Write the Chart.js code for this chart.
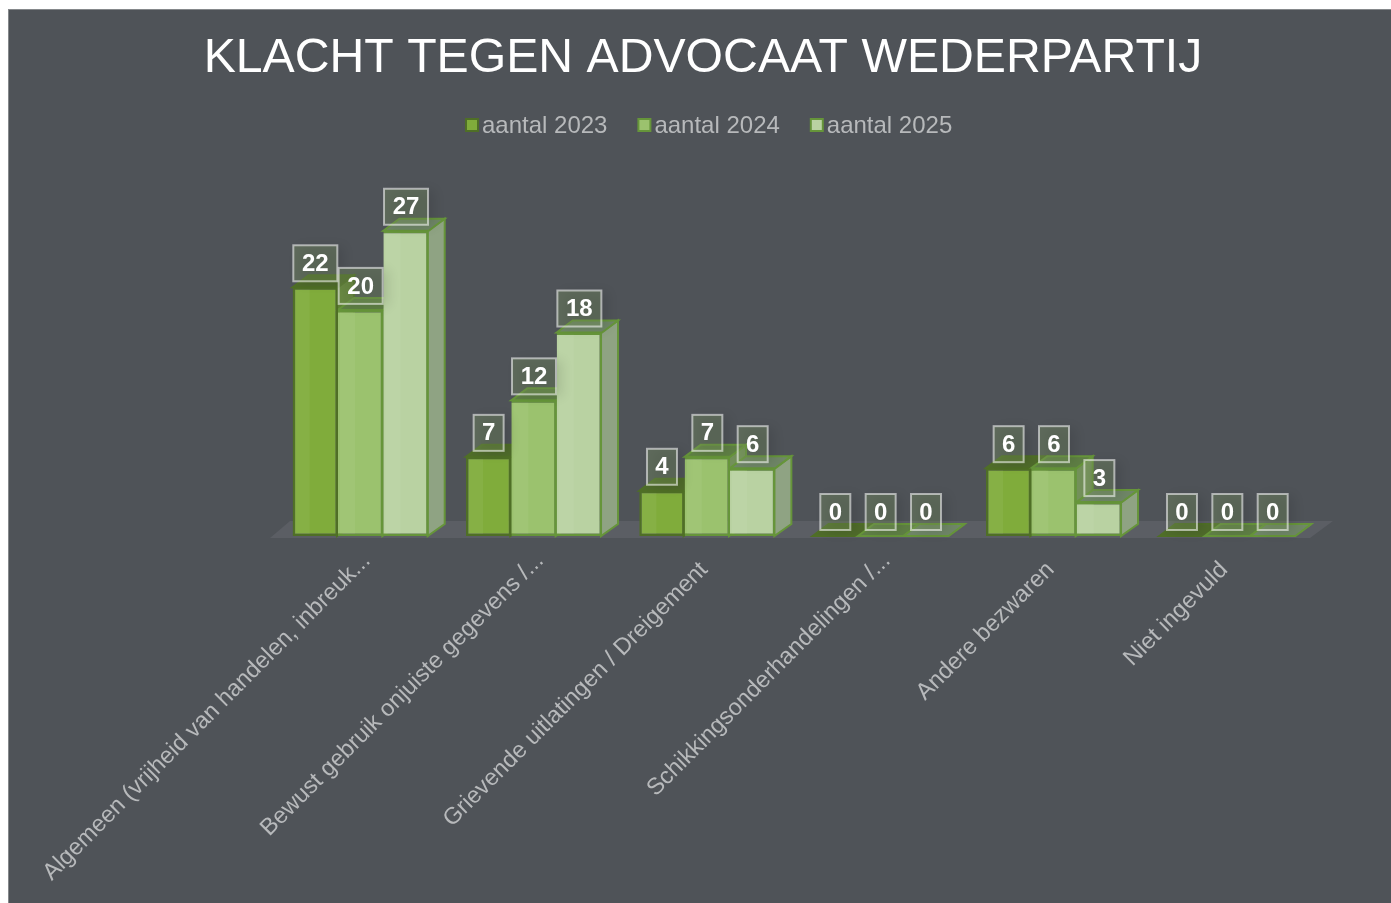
<!DOCTYPE html>
<html>
<head>
<meta charset="utf-8">
<title>Klacht tegen advocaat wederpartij</title>
<script src="https://cdn.jsdelivr.net/npm/chart.js@4"></script>
<style>
    html, body { margin: 0; height: 100%; background: #fff; overflow: hidden; }
    #panel { position: absolute; left: 8px; top: 9px; width: 1390px; height: 894px; background: #4f5358; box-shadow: inset 1px 1px 0 #85888b; }
    #chart { display: block; }
</style>
</head>
<body>
<div id="panel"><canvas id="chart" width="1390" height="894"></canvas></div>
<script>
var categories = [
    'Algemeen (vrijheid van handelen, inbreuk...',
    'Bewust gebruik onjuiste gegevens /...',
    'Grievende uitlatingen / Dreigement',
    'Schikkingsonderhandelingen /...',
    'Andere bezwaren',
    'Niet ingevuld'
];
var aantal2023 = [22, 7, 4, 0, 6, 0];
var aantal2024 = [20, 12, 7, 0, 6, 0];
var aantal2025 = [27, 18, 6, 0, 3, 0];

var fontName = '"Liberation Sans", Arial, sans-serif';

// kleuren per reeks: voorkant, rand, bovenkant, zijkant
var fronts = ['#80ac3b', '#9bc26e', '#b9d2a2'];
var borders = ['#4f6f26', '#66953a', '#66953a'];
var tops = ['#4f6b2b', '#5f7f45', '#6f8667'];
var sides = ['#5f7f35', '#73905a', '#8fa383'];

var depthX = 16;
var depthY = 12;

function poly(ctx, pts, fill, stroke, lineWidth) {
    ctx.beginPath();
    ctx.moveTo(pts[0][0], pts[0][1]);
    for (var i = 1; i < pts.length; i++) {
        ctx.lineTo(pts[i][0], pts[i][1]);
    }
    ctx.closePath();
    ctx.fillStyle = fill;
    ctx.fill();
    if (stroke) {
        ctx.strokeStyle = stroke;
        ctx.lineWidth = lineWidth;
        ctx.stroke();
    }
}

// vloer en de 3D zijkanten, onder de balken
var boxes3d = {
    id: 'boxes3d',
    beforeDatasetsDraw: function(chart) {
        var ctx = chart.ctx;
        var area = chart.chartArea;
        poly(ctx, [
            [area.left - 4, area.bottom + 2],
            [area.right - 4, area.bottom + 2],
            [area.right + 19, area.bottom - 15],
            [area.left + 16, area.bottom - 15]
        ], '#5b5e64');

        chart.data.datasets.forEach(function(ds, d) {
            chart.getDatasetMeta(d).data.forEach(function(bar) {
                var left = bar.x - bar.width / 2;
                var right = bar.x + bar.width / 2;
                poly(ctx, [
                    [right - 1, bar.y],
                    [right + depthX, bar.y - depthY],
                    [right + depthX, bar.base - depthY],
                    [right - 1, bar.base]
                ], sides[d], borders[d], 2);
                poly(ctx, [
                    [left, bar.y],
                    [left + depthX, bar.y - depthY],
                    [right + depthX, bar.y - depthY],
                    [right, bar.y]
                ], tops[d], borders[d], 2);
            });
        });
    },
    afterDatasetsDraw: function(chart) {
        var ctx = chart.ctx;
        chart.data.datasets.forEach(function(ds, d) {
            chart.getDatasetMeta(d).data.forEach(function(bar) {
                // lichter strookje links op de voorkant
                ctx.fillStyle = 'rgba(255,255,255,0.05)';
                ctx.fillRect(bar.x - bar.width / 2 + 2, bar.y + 2, bar.width / 3, Math.max(bar.base - bar.y - 4, 0));
            });
        });
        chart.data.datasets.forEach(function(ds, d) {
            chart.getDatasetMeta(d).data.forEach(function(bar, i) {
                var text = String(ds.data[i]);
                var w = text.length > 1 ? 44 : 30;
                var h = 36;
                var cy = bar.y - 24;
                ctx.save();
                ctx.shadowColor = 'rgba(0,0,0,0.35)';
                ctx.shadowBlur = 12;
                ctx.shadowOffsetX = 6;
                ctx.shadowOffsetY = 2;
                ctx.fillStyle = 'rgba(130,160,100,0.3)';
                ctx.fillRect(bar.x - w / 2, cy - h / 2, w, h);
                ctx.restore();
                ctx.strokeStyle = 'rgba(255,255,255,0.55)';
                ctx.lineWidth = 2;
                ctx.strokeRect(bar.x - w / 2, cy - h / 2, w, h);
                ctx.fillStyle = '#fff';
                ctx.font = 'bold 24px ' + fontName;
                ctx.textAlign = 'center';
                ctx.textBaseline = 'middle';
                ctx.fillText(text, bar.x, cy + 1);
            });
        });
    }
};

// legenda met kleine afstand tussen blokje en tekst
var smallLegend = {
    id: 'smallLegend',
    afterDraw: function(chart) {
        var ctx = chart.ctx;
        var x = 457;
        var y = 116;
        ctx.font = '24px ' + fontName;
        ctx.textBaseline = 'middle';
        ctx.textAlign = 'left';
        chart.data.datasets.forEach(function(ds, d) {
            ctx.fillStyle = fronts[d];
            ctx.strokeStyle = borders[d];
            ctx.lineWidth = 2;
            ctx.fillRect(x + 1, y - 6, 12, 12);
            ctx.strokeRect(x + 1, y - 6, 12, 12);
            ctx.fillStyle = '#b7b9bb';
            ctx.fillText(ds.label, x + 17, y + 1);
            x += 172.4;
        });
    }
};

var ctx = document.getElementById('chart').getContext('2d');
var chart = new Chart(ctx, {
    type: 'bar',
    data: {
        labels: categories,
        datasets: [
            { label: 'aantal 2023', data: aantal2023, backgroundColor: fronts[0], borderColor: borders[0], borderSkipped: false },
            { label: 'aantal 2024', data: aantal2024, backgroundColor: fronts[1], borderColor: borders[1], borderSkipped: 'left' },
            { label: 'aantal 2025', data: aantal2025, backgroundColor: fronts[2], borderColor: borders[2], borderSkipped: 'left' }
        ]
    },
    plugins: [boxes3d, smallLegend],
    options: {
        responsive: false,
        animation: false,
        layout: { padding: { left: 84, right: 84, top: 0, bottom: 0 } },
        datasets: {
            bar: { categoryPercentage: 0.785, barPercentage: 1, borderWidth: 2.5 }
        },
        plugins: {
            legend: { display: false },
            tooltip: { enabled: false },
            title: {
                display: true,
                text: 'KLACHT TEGEN ADVOCAAT WEDERPARTIJ',
                color: '#fff',
                font: { family: fontName, size: 48.2, weight: 'normal', lineHeight: 1.2 },
                padding: { top: 21, bottom: 109 }
            }
        },
        scales: {
            x: {
                grid: { display: false },
                border: { display: false },
                ticks: {
                    autoSkip: false,
                    minRotation: 45,
                    maxRotation: 45,
                    padding: 3,
                    labelOffset: 6,
                    color: '#b7b9bb',
                    font: { family: fontName, size: 23.5 },
                    // afgekorte labels lopen verder door naar rechtsboven dan de volledige
                    callback: function(value) {
                        var label = this.getLabelForValue(value);
                        return label.slice(-3) === '...' ? label : label + '\u00a0\u00a0';
                    }
                },
                afterFit: function(scale) {
                    scale.height = 367;
                    scale.paddingLeft = 0;
                    scale.paddingRight = 0;
                }
            },
            y: {
                min: 0,
                max: 30,
                grid: { display: false },
                border: { display: false },
                ticks: { display: false },
                afterFit: function(scale) {
                    scale.width = 182;
                }
            }
        }
    }
});
</script>
</body>
</html>
